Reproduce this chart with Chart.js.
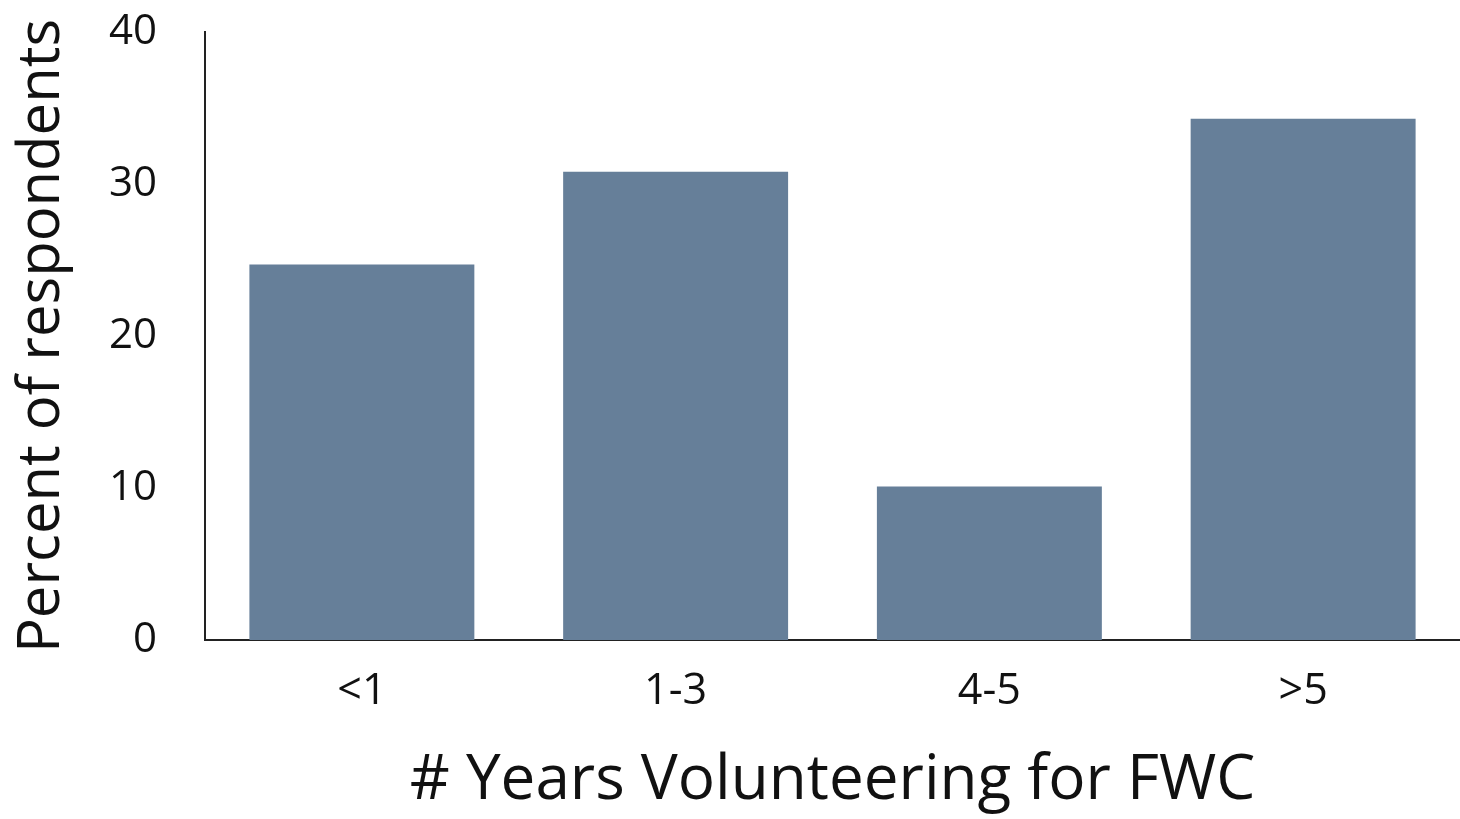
<!DOCTYPE html>
<html>
<head>
<meta charset="utf-8">
<script src="https://cdn.jsdelivr.net/npm/chart.js@4/dist/chart.umd.min.js"></script>
<style>
  html, body { margin: 0; padding: 0; background: #fff; }
  #wrap { width: 1460px; height: 819px; }
</style>
</head>
<body>
<div id="wrap"><canvas id="chart" width="1460" height="819"></canvas></div>
<script>
// Données
const categories = ['<1', '1-3', '4-5', '>5'];
const percentValues = [24.7, 30.8, 10.1, 34.3];
const yTicks = [0, 10, 20, 30, 40];

const fontFamily = "'Open Sans', 'Noto Sans', sans-serif";
const barColor = '#667f99';
const inkColor = '#111111';

const ctx = document.getElementById('chart').getContext('2d');

new Chart(ctx, {
    type: 'bar',
    data: {
        labels: categories,
        datasets: [{
            label: 'Percent of respondents',
            data: percentValues,
            backgroundColor: barColor,
            borderWidth: 0,
            barPercentage: 0.717,
            categoryPercentage: 1.0
        }]
    },
    options: {
        responsive: false,
        animation: false,
        devicePixelRatio: 1,
        layout: { padding: { top: 32, right: 0, left: 8, bottom: 0 } },
        plugins: {
            legend: { display: false },
            tooltip: { enabled: false }
        },
        scales: {
            x: {
                grid: { display: false, drawTicks: false },
                border: { display: true, color: '#222', width: 2 },
                ticks: {
                    color: inkColor,
                    font: { family: fontFamily, size: 43 },
                    padding: 26
                },
                title: {
                    display: true,
                    text: '# Years Volunteering for FWC',
                    color: inkColor,
                    font: { family: fontFamily, size: 62 },
                    padding: { top: 24, bottom: 0 }
                },
                afterFit: (scale) => { scale.height = 179; }
            },
            y: {
                min: 0,
                max: 40,
                afterBuildTicks: (scale) => { scale.ticks = yTicks.map(v => ({ value: v })); },
                grid: { display: false, drawTicks: false },
                border: { display: true, color: '#222', width: 2 },
                ticks: {
                    color: inkColor,
                    font: { family: fontFamily, size: 42 },
                    padding: 48
                },
                title: {
                    display: true,
                    text: 'Percent of respondents',
                    color: inkColor,
                    font: { family: fontFamily, size: 58 },
                    padding: { top: 0, bottom: 0 }
                },
                afterFit: (scale) => {
                    scale.width = 197;
                    scale.paddingTop = 0;
                    scale.paddingBottom = 0;
                }
            }
        }
    }
});
</script>
</body>
</html>
